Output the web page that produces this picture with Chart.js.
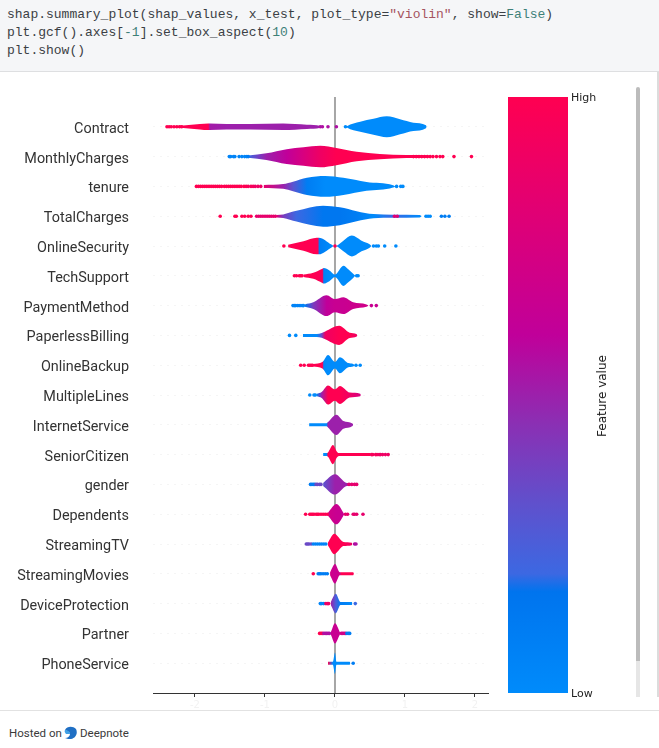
<!DOCTYPE html>
<html>
<head>
<meta charset="utf-8">
<title>shap violin summary</title>
<script src="https://cdn.jsdelivr.net/npm/chart.js@4"></script>
<style>
html, body { margin: 0; padding: 0; background: #fff; overflow: hidden; }
body { width: 659px; height: 748px; position: relative; font-family: Roboto, sans-serif; }
#cell { position: absolute; left: 0; top: 0; width: 659px; height: 71px; background: #f5f6f8; border-bottom: 1px solid #dedfe1; }
#cell pre { margin: 0; position: absolute; left: 7px; top: 6px; font: 13px/18px "Liberation Mono", monospace; color: #3b3f45; }
.str { color: #a5545f; }
.kw { color: #3e8078; }
#plot { position: absolute; left: 0; top: 87px; }
#cbarbox { position: absolute; left: 500px; top: 87px; width: 130px; height: 610px; overflow: hidden; }
#cbartitle { position: absolute; left: 602px; top: 396px; transform: translate(-50%, -50%) rotate(-90deg); font: 12px "DejaVu Sans", sans-serif; color: #222; white-space: nowrap; }
#thumb { position: absolute; left: 636px; top: 87px; width: 4px; height: 574px; background: #bcbcbc; border-radius: 2px 2px 0 0; }
#track { position: absolute; left: 636px; top: 661px; width: 4px; height: 36px; background: #e6e6e6; }
#outer { position: absolute; left: 657px; top: 72px; width: 2px; height: 625px; background: #dcdcdc; }
#foot { position: absolute; left: 0; top: 710px; width: 659px; height: 38px; border-top: 1px solid #e2e2e2; background: #fff; }
#foot span { position: absolute; top: 15px; font: 11.5px/14px Roboto, sans-serif; color: #3a3a3a; }
#foot svg { position: absolute; left: 64px; top: 15px; }
</style>
</head>
<body>
<div id="cell"><pre>shap.summary_plot(shap_values, x_test, plot_type=<span class="str">"violin"</span>, show=<span class="kw">False</span>)
plt.gcf().axes[<span class="kw">-1</span>].set_box_aspect(<span class="kw">10</span>)
plt.show()</pre></div>
<canvas id="plot" width="500" height="625"></canvas>
<div id="cbarbox"><canvas id="cbar" width="130" height="620"></canvas></div>
<div id="cbartitle">Feature value</div>
<div id="thumb"></div><div id="track"></div><div id="outer"></div>
<div id="foot">
  <span style="left:9px">Hosted on</span>
  <svg width="13" height="14" viewBox="0 0 13 14"><path d="M1 4C3 0 9 0 12 3c2 4 0 9-5 10C5 13 3 13 1 12c3 0 5-2 5-4C6 6 3 5 1 4z" fill="#1f6fc4"/><path d="M1 4c2 0 5 1 5 4H2C1 7 0 5 1 4z" fill="#3fa0e6"/></svg>
  <span style="left:80px">Deepnote</span>
</div>

<script>
// feature names, top row first
const features = ['Contract', 'MonthlyCharges', 'tenure', 'TotalCharges', 'OnlineSecurity', 'TechSupport',
    'PaymentMethod', 'PaperlessBilling', 'OnlineBackup', 'MultipleLines', 'InternetService', 'SeniorCitizen',
    'gender', 'Dependents', 'StreamingTV', 'StreamingMovies', 'DeviceProtection', 'Partner', 'PhoneService'];

const xTicks = [-2, -1, 0, 1, 2];

// violin stations per feature: SHAP value, half thickness (in rows), feature value 0..1
const violinX = [
    [-2.31, -2.17, -1.93, -1.81, -1.79, -1.55, -1.21, -0.74, -0.40, -0.21, -0.19, 0.16, 0.17, 0.36, 0.55, 0.74, 0.93, 1.12, 1.30, 1.31],
    [-1.24, -0.98, -0.69, -0.45, -0.21, 0.02, 0.31, 0.64, 1.02, 1.36, 1.38],
    [-1.02, -0.74, -0.60, -0.40, -0.14, 0.12, 0.45, 0.83, 0.86],
    [-0.83, -0.74, -0.55, -0.17, 0.07, 0.31, 0.55, 0.83, 1.21, 1.24],
    [-0.67, -0.45, -0.26, -0.24, -0.23, -0.05, -0.01, 0.03, 0.12, 0.24, 0.38, 0.50, 0.52],
    [-0.45, -0.31, -0.18, -0.16, -0.08, 0, 0.12, 0.19, 0.26, 0.29],
    [-0.43, -0.31, -0.12, 0, 0.12, 0.26, 0.45, 0.48],
    [-0.46, -0.26, -0.19, -0.14, 0.06, 0.21, 0.31, 0.32],
    [-0.31, -0.18, -0.16, -0.10, 0, 0.07, 0.19, 0.26, 0.28],
    [-0.26, -0.19, -0.10, 0, 0.07, 0.21, 0.36, 0.37],
    [-0.37, -0.12, -0.10, 0.02, 0.12, 0.25, 0.26],
    [-0.17, -0.12, -0.10, -0.03, 0.03, 0.06, 0.50, 0.51],
    [-0.17, 0, 0.17, 0.31],
    [-0.10, 0.02, 0.12, 0.13],
    [-0.10, -0.01, 0.12, 0.24, 0.25],
    [-0.07, 0, 0.07, 0.09, 0.26, 0.27],
    [-0.06, 0.01, 0.08, 0.24, 0.25],
    [-0.07, -0.06, 0, 0.07, 0.08],
    [-0.10, -0.03, 0, 0.02, 0.21, 0.22],
];
const violinW = [
    [0.02, 0.04, 0.09, 0.11, 0.11, 0.09, 0.09, 0.11, 0.07, 0.03, 0, 0, 0.02, 0.17, 0.27, 0.35, 0.25, 0.14, 0.05, 0],
    [0.04, 0.11, 0.25, 0.31, 0.36, 0.29, 0.16, 0.09, 0.05, 0.03, 0],
    [0.05, 0.08, 0.16, 0.29, 0.35, 0.29, 0.15, 0.04, 0],
    [0.04, 0.06, 0.18, 0.35, 0.30, 0.17, 0.07, 0.05, 0.04, 0],
    [0.04, 0.16, 0.28, 0.28, 0.28, 0.05, 0, 0.02, 0.18, 0.35, 0.18, 0.05, 0],
    [0.04, 0.10, 0.24, 0.26, 0.18, 0.04, 0.34, 0.22, 0.07, 0],
    [0.04, 0.11, 0.35, 0.22, 0.28, 0.11, 0.04, 0],
    [0.05, 0.05, 0.08, 0.13, 0.32, 0.09, 0.04, 0],
    [0.04, 0.11, 0.16, 0.34, 0.11, 0.27, 0.07, 0.04, 0],
    [0.04, 0.10, 0.32, 0.19, 0.30, 0.08, 0.04, 0],
    [0.05, 0.05, 0.09, 0.34, 0.13, 0.04, 0],
    [0.05, 0.05, 0.07, 0.32, 0.09, 0.05, 0.05, 0],
    [0.05, 0.34, 0.05, 0.04],
    [0.05, 0.34, 0.05, 0],
    [0.05, 0.34, 0.07, 0.04, 0],
    [0.05, 0.33, 0.05, 0.05, 0.05, 0],
    [0.05, 0.33, 0.05, 0.05, 0],
    [0, 0.04, 0.34, 0.04, 0],
    [0.05, 0.05, 0.36, 0.05, 0.05, 0],
];
const violinC = [
    [1, 1, 1, 1, 0.52, 0.5, 0.5, 0.5, 0.5, 0.5, 0.5, 0, 0, 0, 0, 0, 0, 0, 0, 0],
    [0.2, 0.5, 0.6, 0.75, 0.9, 1, 1, 1, 1, 1, 1],
    [0.85, 0.5, 0.3, 0.1, 0, 0, 0, 0, 0],
    [0.75, 0.4, 0.2, 0.15, 0.15, 0.1, 0, 0.2, 0, 0],
    [1, 1, 1, 1, 0.1, 0, 0, 0, 0, 0, 0, 0, 0],
    [1, 1, 0.95, 0.05, 0, 0, 0, 0, 0, 0],
    [0.15, 0.4, 0.6, 0.65, 0.65, 0.67, 0.7, 0.7],
    [0, 0, 0.35, 0.9, 1, 1, 0.9, 0.9],
    [1, 1, 0.03, 0, 0, 0, 0, 0, 0],
    [0.1, 0.5, 1, 1, 1, 0.9, 0.75, 0.75],
    [0, 0, 0.5, 0.5, 0.5, 0.5, 0.5],
    [0, 0, 1, 1, 1, 1, 1, 1],
    [0.3, 0.5, 0.5, 0.7],
    [0.7, 0.65, 0.65, 0.65],
    [1, 1, 1, 0.9, 0.85],
    [0.7, 0.65, 0.7, 1, 1, 1],
    [0.5, 0.25, 0.1, 0, 0],
    [0.65, 0.65, 0.65, 0.65, 0.65],
    [1, 0, 0, 0, 0, 0],
];

// single outlier dots per feature
const dotX = [
    [-2.40, -2.37, -2.34, -2.30, -2.26, -2.22, -2.19, -0.21, -0.18, -0.10, 0.02, 0.15],
    [-1.51, -1.49, -1.45, -1.43, -1.37, -1.33, -1.29, -1.26, -1.24, 1.12, 1.16, 1.20, 1.24, 1.28, 1.32, 1.36, 1.40, 1.45, 1.50, 1.54, 1.70, 1.95],
    [-1.98, -1.95, -1.92, -1.89, -1.86, -1.83, -1.80, -1.77, -1.74, -1.71, -1.68, -1.65, -1.62, -1.58, -1.55, -1.52, -1.49, -1.46, -1.43, -1.40, -1.37, -1.34, -1.30, -1.27, -1.24, -1.20, -1.17, -1.14, -1.10, -1.06, 0.88, 0.94, 0.97],
    [-1.64, -1.43, -1.41, -1.33, -1.29, -1.24, -1.20, -1.12, -1.09, -1.06, -1.03, -1.00, -0.97, -0.94, -0.91, -0.88, -0.85, 0.85, 0.89, 1.30, 1.33, 1.36, 1.52, 1.57, 1.63],
    [-0.73, 0, 0.55, 0.59, 0.62, 0.71, 0.87],
    [-0.58, -0.55, -0.51, -0.49, -0.47, 0.31, 0.33],
    [-0.60, -0.58, -0.56, -0.53, -0.50, -0.47, -0.45, 0.52, 0.59],
    [-0.65, -0.56],
    [-0.49, -0.44, -0.38, -0.36, -0.34, -0.32, 0.30, 0.36],
    [-0.36, -0.30, -0.28],
    [],
    [0.52, 0.54, 0.58, 0.60, 0.63, 0.65, 0.68, 0.72, 0.76],
    [-0.35, -0.33, -0.31, -0.29, -0.27, -0.25, -0.22, -0.20, 0.20, 0.24, 0.28, 0.31],
    [-0.42, -0.36, -0.34, -0.32, -0.30, -0.27, -0.25, -0.23, -0.20, -0.17, -0.14, -0.11, 0.15, 0.18, 0.26, 0.28, 0.31, 0.40],
    [-0.41, -0.39, -0.37, -0.34, -0.31, -0.28, -0.25, -0.22, -0.19, -0.16, -0.13, 0.28, 0.30],
    [-0.31, -0.24, -0.22, -0.20, -0.17, -0.14, -0.11],
    [-0.21, -0.19, -0.16, -0.13, -0.11, -0.09, 0.29],
    [-0.22, -0.20, -0.18, -0.16, -0.14, -0.12, -0.10, -0.08, 0.09, 0.11, 0.13, 0.15, 0.17, 0.19, 0.21],
    [0.26],
];
const dotC = [
    [1, 1, 1, 1, 1, 1, 1, 0.55, 0.55, 0.55, 0.55, 0],
    [0.05, 0.05, 0.05, 0.05, 0.05, 0.05, 0.05, 0.05, 0.1, 1, 1, 1, 1, 1, 1, 1, 1, 1, 1, 1, 1, 1],
    [1, 1, 1, 1, 1, 1, 1, 1, 1, 1, 1, 1, 1, 1, 1, 1, 1, 1, 1, 1, 1, 1, 1, 1, 0.95, 0.95, 0.95, 0.9, 0.9, 0.9, 0, 0, 0],
    [1, 1, 1, 1, 1, 1, 1, 0.85, 0.85, 0.85, 0.85, 0.85, 0.85, 0.85, 0.85, 0.85, 0.85, 0.8, 0.8, 0, 0, 0, 0.1, 0.1, 0.1],
    [1, 1, 0, 0, 0, 0, 0],
    [1, 1, 1, 1, 1, 0, 0],
    [0.05, 0.05, 0.05, 0.05, 0.05, 0.05, 0.05, 0.65, 0.65],
    [0, 0],
    [1, 1, 1, 1, 1, 1, 0, 0],
    [0, 0, 0],
    [],
    [0.95, 0.95, 0.95, 0.95, 0.9, 0.9, 0.9, 0.9, 0.9],
    [0.1, 0.1, 0.1, 0.1, 0.35, 0.35, 0.35, 0.35, 0.85, 0.85, 0.85, 0.85],
    [1, 1, 1, 1, 1, 1, 1, 1, 1, 1, 1, 1, 0.85, 0.85, 0.85, 0.85, 0.85, 0.85],
    [0.35, 0.35, 0.35, 0.35, 0.05, 0.05, 0.05, 0.05, 0.05, 0.05, 0.05, 0.55, 0.55],
    [1, 0.1, 0.1, 0.1, 0.1, 0.1, 0.1],
    [0.05, 0.05, 0.05, 0.9, 0.9, 0.9, 0.2],
    [1, 1, 1, 0.55, 0.55, 0.55, 0.55, 0.55, 0.7, 0.7, 0.7, 0.7, 0.1, 0.1, 0.1],
    [0.1],
];

// colour bar, low to high
const cmapPos = [0, 0.17, 0.2, 0.32, 0.45, 0.6, 1];
const cmapRgb = [[0, 139, 251], [0, 116, 238], [60, 104, 226], [96, 80, 204], [138, 48, 180], [192, 0, 154], [255, 0, 81]];

function cmap(v) {
    let i = 0;
    while (i < cmapPos.length - 2 && v > cmapPos[i + 1]) i++;
    const t = (v - cmapPos[i]) / (cmapPos[i + 1] - cmapPos[i]);
    const c = cmapRgb[i].map((a, k) => Math.round(a + (cmapRgb[i + 1][k] - a) * t));
    return `rgb(${c[0]}, ${c[1]}, ${c[2]})`;
}

// horizontal gradient following the stations of one violin
function violinFill(i) {
    return (context) => {
        const { chart } = context;
        if (!chart.chartArea) return cmap(violinC[i][0]);
        const xs = violinX[i];
        const x0 = chart.scales.x.getPixelForValue(xs[0]);
        const x1 = chart.scales.x.getPixelForValue(xs[xs.length - 1]);
        const g = chart.ctx.createLinearGradient(x0, 0, x1, 0);
        xs.forEach((v, k) => {
            g.addColorStop((v - xs[0]) / (xs[xs.length - 1] - xs[0]), cmap(violinC[i][k]));
        });
        return g;
    };
}

// the scale adds its tick padding to the chart area, drop it so the area is exact
function clearPadding(scale) {
    scale.paddingTop = 0;
    scale.paddingBottom = 0;
    scale.paddingLeft = 0;
    scale.paddingRight = 0;
}

const datasets = [{
    data: [{ x: 0, y: -1 }, { x: 0, y: 19 }],
    showLine: true,
    borderColor: '#a6a6a6',
    borderWidth: 2,
    pointRadius: 0,
    order: 3,
}];

features.forEach((name, i) => {
    const row = features.length - 1 - i;
    datasets.push({
        label: name,
        data: violinX[i].map((x, k) => ({ x, y: row + violinW[i][k] })),
        showLine: true,
        borderWidth: 0,
        pointRadius: 0,
        cubicInterpolationMode: 'monotone',
        fill: '+1',
        backgroundColor: violinFill(i),
        order: 2,
    });
    datasets.push({
        label: name + ' lower',
        data: violinX[i].map((x, k) => ({ x, y: row - violinW[i][k] })),
        showLine: true,
        borderWidth: 0,
        pointRadius: 0,
        cubicInterpolationMode: 'monotone',
        fill: false,
        order: 2,
    });
    datasets.push({
        label: name + ' dots',
        data: dotX[i].map((x) => ({ x, y: row })),
        pointRadius: 1.8,
        pointBorderWidth: 0,
        pointBackgroundColor: dotC[i].map(cmap),
        order: 1,
    });
});

new Chart(document.getElementById('plot'), {
    type: 'scatter',
    data: { datasets },
    options: {
        responsive: false,
        animation: false,
        layout: { padding: { top: 10, right: 12, left: 0, bottom: 0 } },
        plugins: { legend: { display: false }, tooltip: { enabled: false } },
        scales: {
            x: {
                type: 'linear',
                min: -2.6,
                max: 2.186,
                afterFit: (scale) => { scale.height = 19; clearPadding(scale); },
                afterBuildTicks: (scale) => { scale.ticks = xTicks.map((value) => ({ value })); },
                grid: { drawOnChartArea: false, color: '#333', tickLength: 4 },
                border: { display: true, color: '#333', width: 1 },
                ticks: { color: '#f2f2f2', font: { family: 'DejaVu Sans', size: 10 }, padding: 2, maxRotation: 0 },
            },
            y: {
                type: 'linear',
                min: -1,
                max: 19,
                afterFit: (scale) => { scale.width = 153; clearPadding(scale); },
                ticks: {
                    stepSize: 1,
                    includeBounds: false,
                    padding: 24,
                    labelOffset: 2.5,
                    color: '#333',
                    font: { family: 'Roboto', size: 14.4 },
                    callback: (v) => (v >= 0 && v <= 18 ? features[18 - v] : ''),
                },
                grid: {
                    drawTicks: false,
                    lineWidth: 1,
                    color: (c) => (c.tick.value >= 0 && c.tick.value <= 18 ? 'rgba(204, 204, 204, 0.2)' : 'rgba(0, 0, 0, 0)'),
                },
                border: { display: false, dash: [2, 5] },
            },
        },
    },
});

// colour bar
new Chart(document.getElementById('cbar'), {
    type: 'bar',
    data: {
        labels: ['Feature value'],
        datasets: [{
            data: [[0, 1]],
            barPercentage: 1,
            categoryPercentage: 1,
            backgroundColor: (context) => {
                const { chart } = context;
                if (!chart.chartArea) return cmap(0);
                const y = chart.scales.y;
                const g = chart.ctx.createLinearGradient(0, y.getPixelForValue(0), 0, y.getPixelForValue(1));
                cmapPos.forEach((p) => g.addColorStop(p, cmap(p)));
                return g;
            },
        }],
    },
    options: {
        responsive: false,
        animation: false,
        layout: { padding: { left: 8, right: 0, top: 10, bottom: 14 } },
        plugins: { legend: { display: false }, tooltip: { enabled: false } },
        scales: {
            x: { display: false },
            y: {
                position: 'right',
                min: 0,
                max: 1,
                afterFit: (scale) => { scale.width = 62; clearPadding(scale); },
                afterBuildTicks: (scale) => { scale.ticks = [{ value: 0 }, { value: 1 }]; },
                grid: { display: false, drawTicks: false },
                border: { display: false },
                ticks: {
                    padding: 3,
                    labelOffset: 1.5,
                    color: '#222',
                    font: { family: 'DejaVu Sans', size: 11 },
                    callback: (v) => (v === 1 ? 'High' : 'Low'),
                },
            },
        },
    },
});
</script>
</body>
</html>
